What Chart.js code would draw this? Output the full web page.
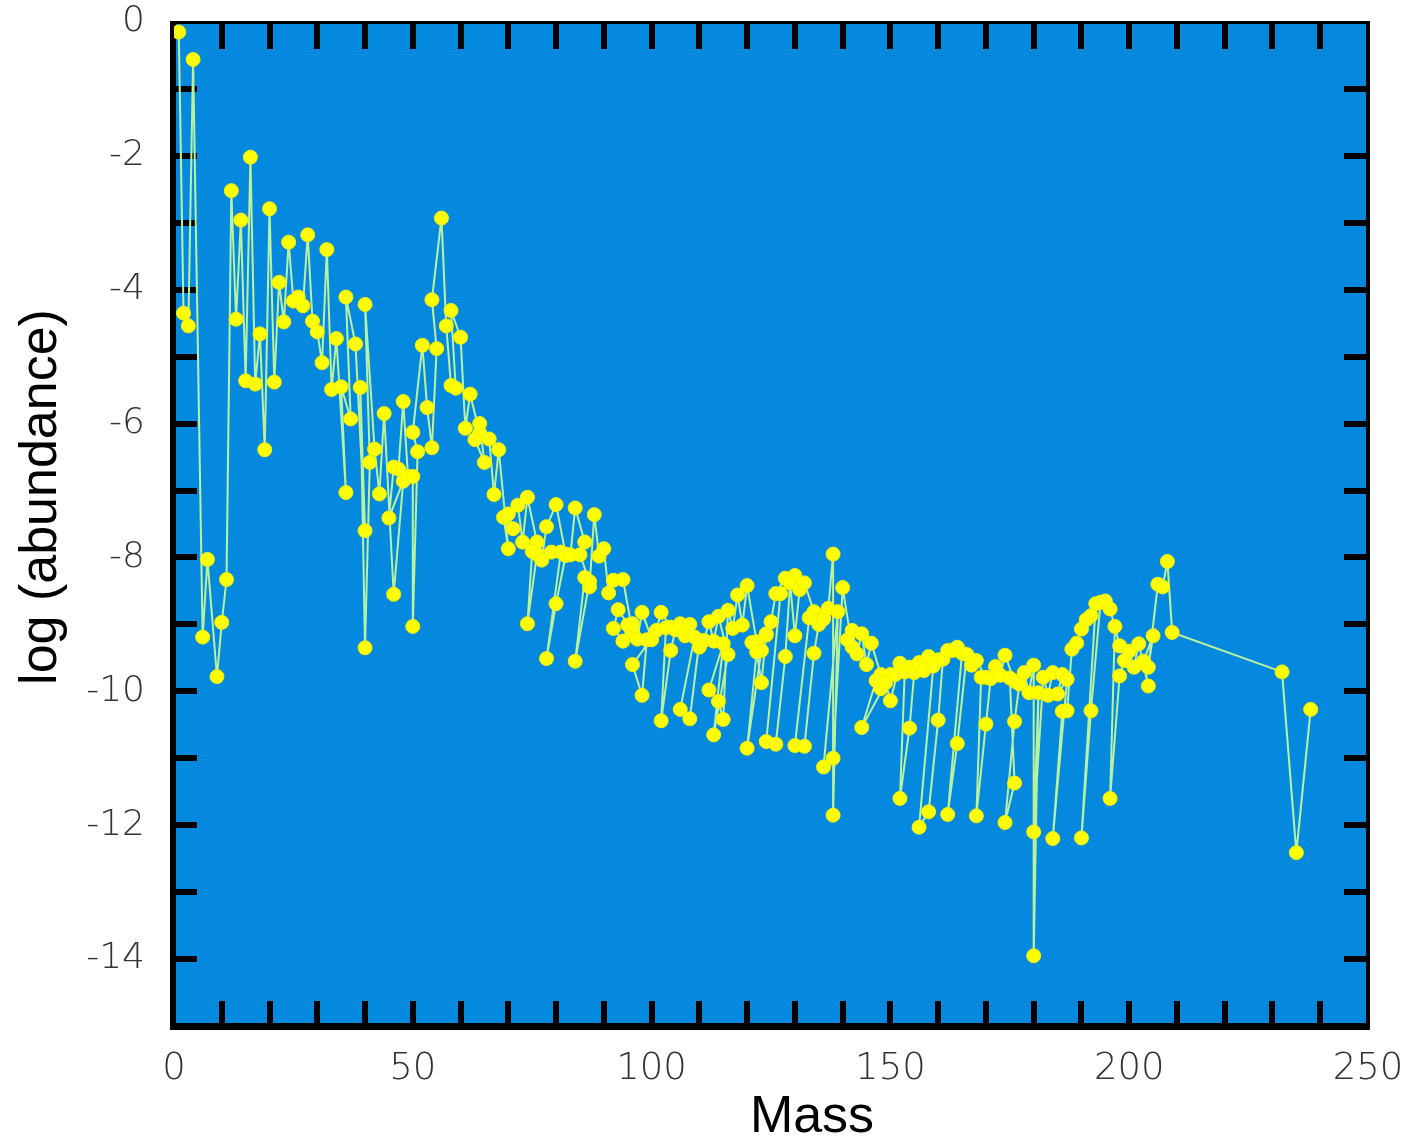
<!DOCTYPE html>
<html>
<head>
<meta charset="utf-8">
<title>Solar abundances by mass</title>
<script src="https://cdn.jsdelivr.net/npm/chart.js@4.4.1/dist/chart.umd.min.js"></script>
<style>
  html, body { margin: 0; padding: 0; background: #ffffff; }
  #wrap { width: 1418px; height: 1147px; }
</style>
</head>
<body>
<div id="wrap"><canvas id="abundChart" width="1418" height="1147"></canvas></div>
<script>
// isotopes in table order (Z, then A)
var masses = [
  1, 2, 3, 4, 6, 7, 9, 10, 11, 12, 13, 14, 15, 16, 17, 18, 19, 20, 21, 22,
  23, 24, 25, 26, 27, 28, 29, 30, 31, 32, 33, 34, 36, 35, 37, 36, 38, 40, 39, 40,
  41, 40, 42, 43, 44, 46, 48, 45, 46, 47, 48, 49, 50, 50, 51, 50, 52, 53, 54, 55,
  54, 56, 57, 58, 59, 58, 60, 61, 62, 64, 63, 65, 64, 66, 67, 68, 70, 69, 71, 70,
  72, 73, 74, 76, 75, 74, 76, 77, 78, 80, 82, 79, 81, 78, 80, 82, 83, 84, 86, 85,
  87, 84, 86, 87, 88, 89, 90, 91, 92, 94, 96, 93, 92, 94, 95, 96, 97, 98, 100, 96,
  98, 99, 100, 101, 102, 104, 103, 102, 104, 105, 106, 108, 110, 107, 109, 106, 108, 110, 111, 112,
  113, 114, 116, 113, 115, 112, 114, 115, 116, 117, 118, 119, 120, 122, 124, 121, 123, 120, 122, 123,
  124, 125, 126, 128, 130, 127, 124, 126, 128, 129, 130, 131, 132, 134, 136, 133, 130, 132, 134, 135,
  136, 137, 138, 138, 139, 136, 138, 140, 142, 141, 142, 143, 144, 145, 146, 148, 150, 144, 147, 148,
  149, 150, 152, 154, 151, 153, 152, 154, 155, 156, 157, 158, 160, 159, 156, 158, 160, 161, 162, 163,
  164, 165, 162, 164, 166, 167, 168, 170, 169, 168, 170, 171, 172, 173, 174, 176, 175, 176, 174, 176,
  177, 178, 179, 180, 180, 181, 180, 182, 183, 184, 186, 185, 187, 184, 186, 187, 188, 189, 190, 192,
  191, 193, 190, 192, 194, 195, 196, 198, 197, 196, 198, 199, 200, 201, 202, 204, 203, 205, 204, 206,
  207, 208, 209, 232, 235, 238
];

var logAbundance = [
  -0.15, -4.35, -4.54, -0.56, -9.19, -8.03, -9.78, -8.97, -8.33, -2.52, -4.44, -2.96, -5.36, -2.02, -5.41, -4.66, -6.39, -2.79, -5.38, -3.89,
  -4.48, -3.29, -4.17, -4.11, -4.24, -3.18, -4.47, -4.63, -5.09, -3.40, -5.49, -4.73, -7.03, -5.45, -5.93, -4.11, -4.81, -7.60, -5.46, -9.35,
  -6.58, -4.22, -6.38, -7.05, -5.85, -8.55, -6.86, -7.41, -6.65, -6.68, -5.67, -6.79, -6.79, -9.03, -6.42, -6.13, -4.83, -5.76, -6.36, -4.88,
  -4.15, -2.93, -4.54, -5.43, -5.47, -4.31, -4.71, -6.07, -5.56, -6.14, -6.24, -6.58, -6.00, -6.23, -7.06, -6.39, -7.87, -7.40, -7.57, -7.35,
  -7.22, -7.77, -7.10, -7.77, -7.91, -8.99, -7.95, -8.04, -7.54, -7.21, -7.95, -7.92, -7.92, -9.51, -8.69, -7.97, -7.96, -7.26, -7.77, -7.96,
  -8.36, -9.55, -8.30, -8.44, -7.36, -7.98, -7.87, -8.53, -8.34, -8.33, -9.11, -8.78, -9.06, -9.25, -9.01, -8.99, -9.22, -8.82, -9.21, -9.60,
  -10.06, -9.23, -9.23, -9.09, -8.82, -9.04, -9.05, -10.44, -9.39, -9.08, -8.99, -9.00, -9.34, -9.17, -9.19, -10.27, -10.41, -9.25, -9.24, -8.96,
  -9.25, -8.88, -9.45, -10.65, -9.29, -9.98, -10.15, -10.42, -8.79, -9.06, -8.56, -9.01, -8.42, -9.26, -9.16, -9.27, -9.39, -10.85, -9.41, -9.87,
  -9.14, -8.96, -8.54, -8.31, -8.27, -8.54, -10.75, -10.79, -9.48, -8.38, -9.17, -8.48, -8.38, -8.81, -8.89, -8.90, -10.81, -10.82, -9.43, -9.00,
  -8.92, -8.76, -7.95, -11.85, -8.81, -11.13, -11.00, -8.45, -9.34, -9.23, -9.09, -9.44, -9.14, -9.60, -9.28, -9.75, -9.75, -10.54, -9.84, -9.96,
  -9.87, -10.14, -9.58, -9.64, -9.75, -9.71, -11.60, -10.55, -9.72, -9.57, -9.69, -9.48, -9.53, -9.62, -12.03, -11.80, -10.43, -9.52, -9.39, -9.39,
  -9.34, -9.43, -11.84, -10.78, -9.45, -9.61, -9.54, -9.79, -9.79, -11.86, -10.49, -9.81, -9.63, -9.76, -9.46, -9.85, -9.80, -11.37, -11.96, -10.45,
  -9.89, -9.72, -10.02, -9.61, -13.95, -10.02, -12.10, -9.79, -10.06, -9.72, -9.75, -10.04, -9.82, -12.20, -10.30, -10.29, -9.37, -9.28, -9.07, -8.87,
  -8.93, -8.69, -12.19, -10.29, -8.67, -8.65, -8.77, -9.32, -9.03, -11.60, -9.77, -9.54, -9.40, -9.64, -9.29, -9.92, -9.55, -9.17, -9.64, -8.40,
  -8.44, -8.06, -9.12, -9.71, -12.41, -10.27
];

var xTickLabels = [0, 50, 100, 150, 200, 250];
var yTickLabels = [0, -2, -4, -6, -8, -10, -12, -14];

var points = masses.map(function (m, i) { return { x: m, y: logAbundance[i] }; });

// blue panel, black frame and inward tick marks, plus the axis titles
var framePlugin = {
  id: 'frame',
  beforeDatasetsDraw: function (chart) {
    var ctx = chart.ctx, a = chart.chartArea;
    var xs = chart.scales.x, ys = chart.scales.y;
    ctx.save();
    ctx.fillStyle = '#0589df';
    ctx.fillRect(a.left, a.top, a.right - a.left, a.bottom - a.top);

    ctx.fillStyle = '#000000';
    xs.ticks.forEach(function (t) {
      if (t.value <= xs.min || t.value >= xs.max) return;
      var px = Math.round(xs.getPixelForValue(t.value));
      ctx.fillRect(px - 3, a.top, 6, 27);
      ctx.fillRect(px - 3, a.bottom - 25, 6, 25);
    });
    ys.ticks.forEach(function (t) {
      if (t.value <= ys.min || t.value >= ys.max) return;
      var py = Math.round(ys.getPixelForValue(t.value));
      ctx.fillRect(a.left, py - 3, 23, 6);
      ctx.fillRect(a.right - 24, py - 3, 24, 6);
    });

    // frame
    ctx.fillRect(a.left - 4, a.top - 1, 6, a.bottom - a.top + 5);
    ctx.fillRect(a.left - 4, a.bottom - 3, a.right - a.left + 6, 7);
    ctx.fillRect(a.left - 4, a.top - 1, a.right - a.left + 6, 3);
    ctx.fillRect(a.right - 2, a.top - 1, 4, a.bottom - a.top + 5);
    ctx.restore();
  },
  afterDraw: function (chart) {
    var ctx = chart.ctx;
    ctx.save();
    ctx.fillStyle = '#000000';
    ctx.font = '52px "Liberation Sans", Arial, sans-serif';
    ctx.textAlign = 'center';
    ctx.textBaseline = 'middle';
    ctx.fillText('Mass', 812, 1118);
    ctx.translate(42, 497);
    ctx.rotate(-Math.PI / 2);
    ctx.fillText('log (abundance)', 0, 0);
    ctx.restore();
  }
};

var ctx = document.getElementById('abundChart').getContext('2d');
var abundChart = new Chart(ctx, {
  type: 'scatter',
  data: {
    datasets: [{
      label: 'log (abundance)',
      data: points,
      showLine: true,
      borderColor: '#b8f2a0',
      borderWidth: 2,
      pointRadius: 7,
      pointBorderWidth: 1,
      pointBackgroundColor: '#ffff00',
      pointBorderColor: '#f4f400',
      tension: 0
    }]
  },
  options: {
    responsive: false,
    animation: false,
    devicePixelRatio: 1,
    layout: { padding: { top: 22, right: 50, left: 0, bottom: 0 } },
    plugins: {
      legend: { display: false },
      tooltip: { enabled: false }
    },
    scales: {
      x: {
        type: 'linear',
        min: 0,
        max: 250,
        grid: { display: false },
        border: { display: false },
        afterFit: function (scale) {
          scale.height = 121;
          scale.paddingLeft = 0;
          scale.paddingRight = 0;
        },
        ticks: {
          stepSize: 10,
          autoSkip: false,
          maxRotation: 0,
          padding: 13,
          color: '#333333',
          font: { family: '"DejaVu Sans", sans-serif', size: 37, weight: '300' },
          callback: function (v) { return xTickLabels.indexOf(v) >= 0 ? String(v) : ''; }
        }
      },
      y: {
        type: 'linear',
        min: -15,
        max: 0,
        grid: { display: false },
        border: { display: false },
        afterFit: function (scale) {
          scale.width = 174;
          scale.paddingTop = 0;
          scale.paddingBottom = 0;
        },
        ticks: {
          stepSize: 1,
          autoSkip: false,
          padding: 21,
          color: '#333333',
          font: { family: '"DejaVu Sans", sans-serif', size: 36, weight: '300' },
          callback: function (v) { return yTickLabels.indexOf(v) >= 0 ? String(v) : ''; }
        }
      }
    }
  },
  plugins: [framePlugin]
});
</script>
</body>
</html>
